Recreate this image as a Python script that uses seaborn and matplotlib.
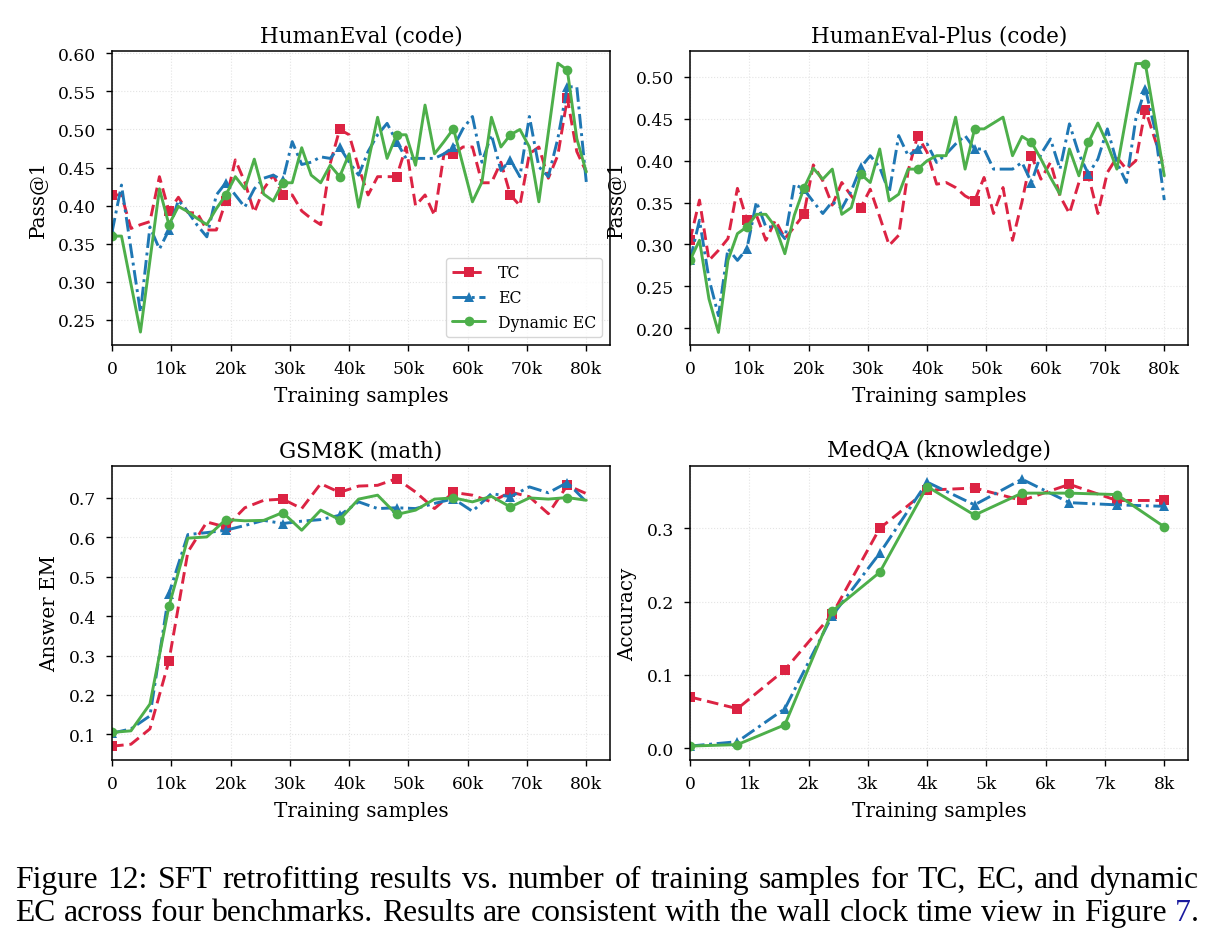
import matplotlib
matplotlib.use("Agg")
import numpy as np
import pandas as pd
import seaborn as sns
import matplotlib.pyplot as plt

# ---------------- data ----------------
series_names = ["TC", "EC", "Dynamic EC"]

he_steps = [1600 * i for i in range(51)]
he_tc = [0.414, 0.414, 0.370, 0.375, 0.379, 0.438, 0.393, 0.411, 0.391, 0.390, 0.368, 0.368, 0.406, 0.460, 0.431,
         0.391, 0.422, 0.440, 0.414, 0.414, 0.393, 0.383, 0.375, 0.455, 0.500, 0.493, 0.450, 0.414, 0.438, 0.438,
         0.438, 0.477, 0.400, 0.414, 0.387, 0.468, 0.468, 0.477, 0.477, 0.430, 0.430, 0.457, 0.414, 0.400, 0.468,
         0.477, 0.436, 0.466, 0.541, 0.471, 0.444]
he_ec = [0.365, 0.427, 0.343, 0.260, 0.372, 0.343, 0.368, 0.407, 0.392, 0.374, 0.359, 0.414, 0.430, 0.414, 0.398,
         0.422, 0.436, 0.440, 0.433, 0.484, 0.454, 0.457, 0.464, 0.462, 0.477, 0.457, 0.440, 0.471, 0.493, 0.508,
         0.484, 0.462, 0.462, 0.462, 0.462, 0.468, 0.477, 0.501, 0.517, 0.457, 0.493, 0.446, 0.460, 0.438, 0.517,
         0.451, 0.438, 0.488, 0.556, 0.556, 0.431]
he_dec = [0.360, 0.360, 0.297, 0.234, 0.328, 0.422, 0.375, 0.399, 0.392, 0.383, 0.375, 0.396, 0.414, 0.438, 0.422,
          0.461, 0.415, 0.406, 0.430, 0.430, 0.476, 0.440, 0.430, 0.453, 0.438, 0.468, 0.398, 0.457, 0.516, 0.462,
          0.493, 0.493, 0.453, 0.532, 0.468, 0.484, 0.501, 0.453, 0.405, 0.431, 0.516, 0.477, 0.493, 0.500, 0.477,
          0.405, 0.496, 0.587, 0.578, 0.488, 0.444]

hep_tc = [0.305, 0.353, 0.281, 0.293, 0.307, 0.367, 0.329, 0.335, 0.305, 0.329, 0.307, 0.321, 0.336, 0.395, 0.376,
          0.347, 0.374, 0.358, 0.344, 0.366, 0.333, 0.299, 0.311, 0.388, 0.430, 0.410, 0.372, 0.374, 0.368, 0.358,
          0.352, 0.380, 0.337, 0.368, 0.305, 0.351, 0.406, 0.378, 0.398, 0.358, 0.337, 0.374, 0.382, 0.337, 0.386,
          0.404, 0.390, 0.400, 0.461, 0.426, 0.392]
hep_ec = [0.281, 0.329, 0.259, 0.215, 0.295, 0.281, 0.295, 0.351, 0.321, 0.321, 0.307, 0.372, 0.366, 0.351, 0.337,
          0.351, 0.343, 0.364, 0.392, 0.406, 0.392, 0.362, 0.430, 0.406, 0.414, 0.420, 0.398, 0.408, 0.420, 0.430,
          0.414, 0.414, 0.390, 0.390, 0.390, 0.398, 0.374, 0.408, 0.426, 0.390, 0.444, 0.408, 0.384, 0.402, 0.438,
          0.398, 0.374, 0.450, 0.486, 0.438, 0.353]
hep_dec = [0.281, 0.305, 0.235, 0.195, 0.281, 0.313, 0.321, 0.336, 0.336, 0.321, 0.289, 0.335, 0.367, 0.391, 0.378,
           0.390, 0.336, 0.344, 0.384, 0.374, 0.414, 0.352, 0.360, 0.390, 0.390, 0.400, 0.406, 0.406, 0.452, 0.390,
           0.438, 0.438, 0.445, 0.452, 0.406, 0.429, 0.422, 0.402, 0.380, 0.360, 0.414, 0.382, 0.422, 0.445, 0.420,
           0.390, 0.453, 0.516, 0.516, 0.450, 0.382]

gsm_steps = [3200 * j for j in range(26)]
gsm_tc = [0.070, 0.075, 0.114, 0.286, 0.563, 0.639, 0.626, 0.675, 0.694, 0.697, 0.673, 0.736, 0.714, 0.730, 0.732,
          0.749, 0.715, 0.673, 0.714, 0.707, 0.690, 0.715, 0.703, 0.660, 0.732, 0.711]
gsm_ec = [0.103, 0.114, 0.147, 0.457, 0.607, 0.612, 0.618, 0.630, 0.643, 0.635, 0.641, 0.645, 0.656, 0.690, 0.673,
          0.675, 0.673, 0.686, 0.698, 0.666, 0.711, 0.703, 0.728, 0.713, 0.739, 0.690]
gsm_dec = [0.105, 0.109, 0.177, 0.425, 0.598, 0.601, 0.645, 0.642, 0.643, 0.663, 0.618, 0.669, 0.645, 0.697, 0.707,
           0.658, 0.669, 0.697, 0.700, 0.690, 0.704, 0.677, 0.700, 0.697, 0.701, 0.694]

med_steps = [800 * k for k in range(11)]
med_tc = [0.070, 0.054, 0.107, 0.183, 0.300, 0.352, 0.355, 0.338, 0.360, 0.338, 0.338]
med_ec = [0.003, 0.009, 0.054, 0.181, 0.266, 0.363, 0.332, 0.367, 0.335, 0.332, 0.330]
med_dec = [0.003, 0.005, 0.032, 0.187, 0.240, 0.357, 0.318, 0.348, 0.348, 0.346, 0.302]

titles = ["HumanEval (code)", "HumanEval-Plus (code)", "GSM8K (math)", "MedQA (knowledge)"]
ylabels = ["Pass@1", "Pass@1", "Answer EM", "Accuracy"]
xlabel = "Training samples"
xticks_big = [0, 10000, 20000, 30000, 40000, 50000, 60000, 70000, 80000]
xticklabels_big = ["0", "10k", "20k", "30k", "40k", "50k", "60k", "70k", "80k"]
xticks_small = [0, 1000, 2000, 3000, 4000, 5000, 6000, 7000, 8000]
xticklabels_small = ["0", "1k", "2k", "3k", "4k", "5k", "6k", "7k", "8k"]
caption1 = "Figure 12: SFT retrofitting results vs. number of training samples for TC, EC, and dynamic"
caption2 = "EC across four benchmarks. Results are consistent with the wall clock time view in Figure"
caption_ref = "7"

# ---------------- style ----------------
sns.set_theme(style="whitegrid")
plt.rcParams.update({
    "font.family": ["DejaVu Serif"],
    "text.color": "black",
    "axes.labelcolor": "black",
    "axes.edgecolor": "black",
    "axes.linewidth": 1.1,
    "grid.color": "#e4e4e4",
    "grid.linestyle": ":",
    "grid.linewidth": 0.8,
    "xtick.bottom": True,
    "ytick.left": True,
    "xtick.major.size": 4.5,
    "ytick.major.size": 4.5,
    "xtick.major.width": 1.0,
    "ytick.major.width": 1.0,
    "xtick.major.pad": 6,
    "ytick.major.pad": 7,
    "xtick.color": "black",
    "ytick.color": "black",
})

colors = {"TC": "#dc2343", "EC": "#1f77b4", "Dynamic EC": "#4daf4a"}
lstyles = {"TC": (0, (4.0, 2.0)), "EC": (0, (5.0, 1.6, 1.0, 1.6)), "Dynamic EC": "-"}
markers = {"TC": "s", "EC": "^", "Dynamic EC": "o"}

W, H = 1219, 945
fig = plt.figure(figsize=(W / 100, H / 100), dpi=100)


def box(l, r, t, b):
    return [l / W, 1 - b / H, (r - l) / W, (b - t) / H]


axes = [
    fig.add_axes(box(112, 610, 52, 346)),
    fig.add_axes(box(690, 1188, 52, 346)),
    fig.add_axes(box(112, 610, 467, 761)),
    fig.add_axes(box(690, 1188, 467, 761)),
]

panels = [
    (he_steps, [he_tc, he_ec, he_dec], 6, (0.217, 0.603), np.arange(0.25, 0.601, 0.05), "{:.2f}", xticks_big, xticklabels_big, 84000),
    (he_steps, [hep_tc, hep_ec, hep_dec], 6, (0.180, 0.531), np.arange(0.20, 0.501, 0.05), "{:.2f}", xticks_big, xticklabels_big, 84000),
    (gsm_steps, [gsm_tc, gsm_ec, gsm_dec], 3, (0.035, 0.781), np.arange(0.1, 0.701, 0.1), "{:.1f}", xticks_big, xticklabels_big, 84000),
    (med_steps, [med_tc, med_ec, med_dec], 1, (-0.016, 0.385), np.arange(0.0, 0.301, 0.1), "{:.1f}", xticks_small, xticklabels_small, 8400),
]

for idx, (ax, (xs, ys, me, ylim, yt, fmt, xt, xtl, xmax)) in enumerate(zip(axes, panels)):
    for name, yv in zip(series_names, ys):
        df = pd.DataFrame({"x": xs, "y": yv})
        sns.lineplot(data=df, x="x", y="y", ax=ax, color=colors[name], linestyle=lstyles[name],
                     marker=markers[name], markevery=me, markersize=7, linewidth=2.1,
                     markeredgewidth=0, label=name, legend=False)
    ax.set_xlim(0, xmax)
    ax.set_ylim(*ylim)
    ax.set_xticks(xt)
    ax.set_xticklabels(xtl, fontsize=12.3)
    ax.set_yticks(yt)
    ax.set_yticklabels([fmt.format(v) for v in yt], fontsize=12.3)
    ax.set_title(titles[idx], fontsize=15.5, pad=7)
    ax.set_xlabel(xlabel, fontsize=14.3, labelpad=6.5)
    ax.set_ylabel(ylabels[idx], fontsize=14.3, labelpad=7)
    for s in ax.spines.values():
        s.set_visible(True)
        s.set_color("black")
    ax.grid(True)

leg = axes[0].legend(loc="lower right", fontsize=11.3, frameon=True, fancybox=True,
                     edgecolor="#cccccc", handlelength=2.1, borderaxespad=0.5)

# ---------------- caption (justified, like the reference) ----------------
fig.canvas.draw()
r = fig.canvas.get_renderer()
cap_font = "Liberation Serif"
x_left, x_right = 15, 1199
lines = [
    ([(w, "black") for w in caption1.split(" ")], 888),
    ([(w, "black") for w in caption2.split(" ")] + [(caption_ref, "#1a1a9e")], 921),
]


def measure(s, fs):
    t = fig.text(0, 0, s, fontsize=fs, family=cap_font)
    w = t.get_window_extent(r).width
    t.remove()
    return w


fs = 22.8
for words, _ in lines:
    space_w = measure("a a", fs) - measure("aa", fs)
    total = sum(measure(w, fs) for w, _ in words) + space_w * (len(words) - 1) + measure(".", fs)
    if total > (x_right - x_left):
        fs = fs * (x_right - x_left) / total

for li, (words, yb) in enumerate(lines):
    widths = [measure(w, fs) for w, _ in words]
    extra = measure(".", fs) if li == 1 else 0
    gap = (x_right - x_left - sum(widths) - extra) / (len(words) - 1)
    x = x_left
    for (w, c), ww in zip(words, widths):
        fig.text(x / W, 1 - yb / H, w, fontsize=fs, family=cap_font, color=c, va="baseline", ha="left")
        x += ww + gap
    if li == 1:
        xe = x - gap
        fig.text(xe / W, 1 - yb / H, ".", fontsize=fs, family=cap_font, color="black", va="baseline", ha="left")

fig.savefig("out.png", dpi=100)
